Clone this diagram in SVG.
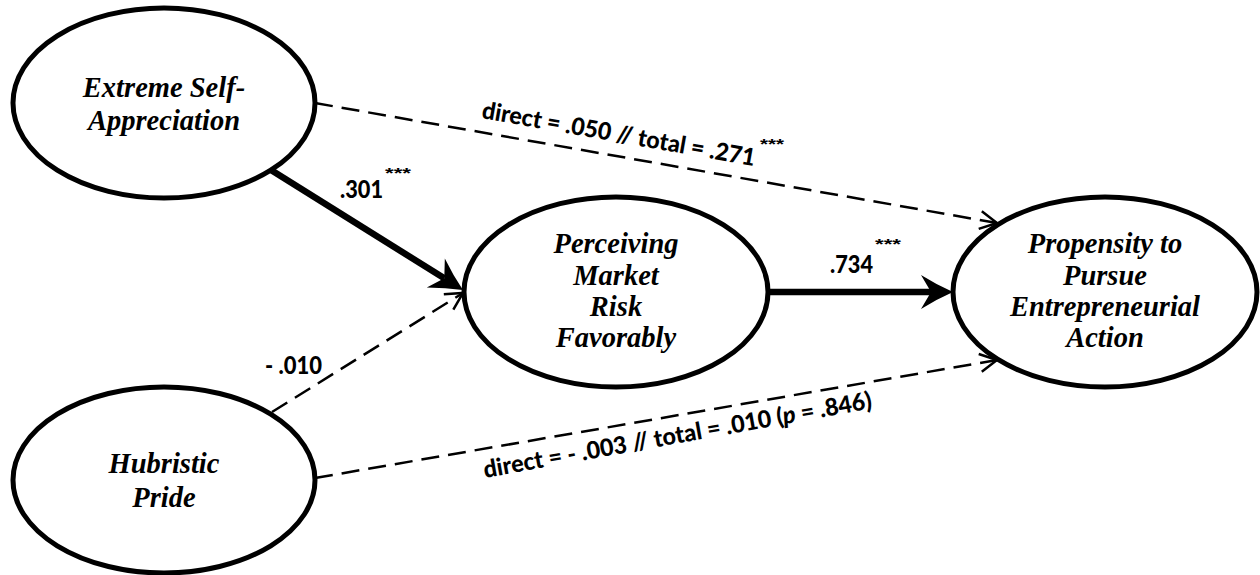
<svg xmlns="http://www.w3.org/2000/svg" width="1260" height="575" viewBox="0 0 1260 575">
<style>
.node ellipse{fill:#fff;stroke:#000;stroke-width:5}
.node text{font-family:"Liberation Serif","Times New Roman",serif;font-weight:bold;font-style:italic;font-size:28.5px;text-anchor:middle;fill:#000}
.thick{stroke:#000;stroke-width:6.5;fill:none}
.dash{stroke:#000;stroke-width:2.5;fill:none;stroke-dasharray:18 9}
.lbl{font-family:Lato,"Open Sans","Liberation Sans",sans-serif;font-weight:900;font-size:24px;fill:#000}
.star{font-family:"Liberation Sans",sans-serif;font-weight:bold;font-size:15px;fill:#000}
</style>
<defs>
<marker id="stealth" markerUnits="userSpaceOnUse" markerWidth="60" markerHeight="60" viewBox="-20 -30 60 60" refX="0" refY="0" orient="auto" overflow="visible">
<path d="M22,0 Q6,-7 -10,-17 L0,0 L-10,17 Q6,7 22,0 Z" fill="#000"/>
</marker>
<marker id="open" markerUnits="userSpaceOnUse" markerWidth="40" markerHeight="40" viewBox="-20 -20 40 40" refX="0" refY="0" orient="auto" overflow="visible">
<path d="M-17,-9 L0,0 L-17,9" fill="none" stroke="#000" stroke-width="2.5"/>
</marker>
</defs>
<rect width="1260" height="575" fill="#fff"/>
<g id="connectors">
<line class="dash" x1="315" y1="103" x2="997" y2="223" marker-end="url(#open)"/>
<line class="dash" x1="272" y1="412" x2="463" y2="293" marker-end="url(#open)"/>
<line class="dash" x1="315" y1="478" x2="997" y2="360" marker-end="url(#open)"/>
<line class="thick" x1="271" y1="170" x2="444.3" y2="278.3" marker-end="url(#stealth)"/>
<line class="thick" x1="768" y1="292" x2="931" y2="292" marker-end="url(#stealth)"/>
<text class="lbl" transform="translate(481,118) rotate(10)" textLength="277" lengthAdjust="spacingAndGlyphs">direct = .050 // total = .271</text>
<text class="star" x="760" y="149" textLength="24" lengthAdjust="spacingAndGlyphs">***</text>
<text class="lbl" x="340" y="198" textLength="43" lengthAdjust="spacingAndGlyphs">.301</text>
<text class="star" x="385" y="178" textLength="26" lengthAdjust="spacingAndGlyphs">***</text>
<text class="lbl" x="830" y="273" textLength="43" lengthAdjust="spacingAndGlyphs">.734</text>
<text class="star" x="875" y="249" textLength="26" lengthAdjust="spacingAndGlyphs">***</text>
<text class="lbl" x="265" y="374" textLength="57" lengthAdjust="spacingAndGlyphs">- .010</text>
<text class="lbl" transform="translate(485,478) rotate(-10.2)" textLength="394" lengthAdjust="spacingAndGlyphs">direct = - .003 // total = .010 (<tspan font-style="italic">p</tspan> = .846)</text>
</g>
<g id="node-esa" class="node">
<ellipse cx="164" cy="103" rx="151" ry="95"/>
<text x="164" y="97">Extreme Self-</text>
<text x="164" y="130">Appreciation</text>
</g>
<g id="node-pmrf" class="node">
<ellipse cx="616" cy="292" rx="152" ry="95"/>
<text x="616" y="253">Perceiving</text>
<text x="616" y="285">Market</text>
<text x="616" y="316">Risk</text>
<text x="616" y="347">Favorably</text>
</g>
<g id="node-ppea" class="node">
<ellipse cx="1105" cy="292" rx="152" ry="95"/>
<text x="1105" y="253">Propensity to</text>
<text x="1105" y="285">Pursue</text>
<text x="1105" y="316">Entrepreneurial</text>
<text x="1105" y="347">Action</text>
</g>
<g id="node-hp" class="node">
<ellipse cx="164" cy="480" rx="151" ry="93"/>
<text x="164" y="473">Hubristic</text>
<text x="164" y="507">Pride</text>
</g>
</svg>
